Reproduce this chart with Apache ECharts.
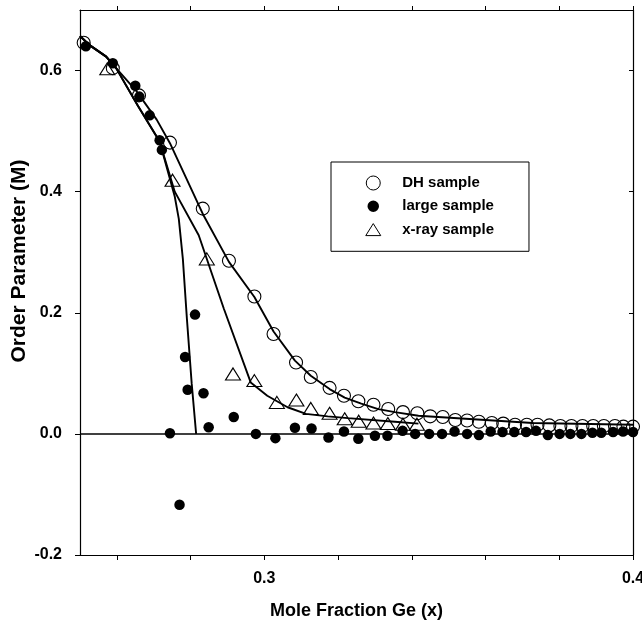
<!DOCTYPE html>
<html>
<head>
<meta charset="utf-8">
<script src="https://cdn.jsdelivr.net/npm/echarts@6/dist/echarts.min.js"></script>
<style>
html,body{margin:0;padding:0;background:#fff;}
#chart{width:642px;height:624px;}
</style>
</head>
<body>
<div id="chart"></div>
<script>
// ---- data ----
const dhX = [0.2510,0.2589,0.2660,0.2744,0.2833,0.2904,0.2973,0.3025,0.3086,0.3126,0.3177,0.3216,0.3255,0.3296,0.3336,0.3376,0.3415,0.3450,0.3484,0.3518,0.3550,0.3582,0.3617,0.3648,0.3680,0.3712,0.3741,0.3773,0.3803,0.3833,0.3863,0.3892,0.3921,0.3951,0.3974,0.4000];
const dhY = [0.646,0.604,0.559,0.481,0.372,0.286,0.227,0.165,0.118,0.094,0.076,0.063,0.054,0.048,0.041,0.036,0.034,0.029,0.028,0.023,0.022,0.020,0.018,0.017,0.015,0.015,0.015,0.014,0.013,0.013,0.013,0.013,0.013,0.013,0.012,0.012];

const largeX = [0.2516,0.2589,0.2650,0.2661,0.2689,0.2716,0.2722,0.2744,0.2770,0.2785,0.2792,0.2812,0.2835,0.2849,0.2917,0.2977,0.3030,0.3083,0.3128,0.3174,0.3216,0.3255,0.3300,0.3334,0.3375,0.3409,0.3447,0.3482,0.3516,0.3550,0.3582,0.3614,0.3646,0.3678,0.3710,0.3737,0.3769,0.3801,0.3830,0.3860,0.3890,0.3914,0.3946,0.3973,0.4000];
const largeY = [0.640,0.612,0.575,0.557,0.526,0.485,0.469,0.001,-0.117,0.127,0.073,0.197,0.067,0.011,0.028,0.000,-0.007,0.010,0.009,-0.006,0.004,-0.008,-0.003,-0.003,0.005,0.000,0.000,0.000,0.004,0.000,-0.002,0.004,0.003,0.003,0.003,0.005,-0.002,0.000,0.000,0.000,0.002,0.002,0.003,0.004,0.003];

const xrayX = [0.2574,0.2751,0.2844,0.2915,0.2973,0.3034,0.3087,0.3126,0.3177,0.3218,0.3256,0.3296,0.3335,0.3376,0.3414];
const xrayY = [0.603,0.419,0.289,0.099,0.088,0.052,0.056,0.042,0.034,0.025,0.021,0.018,0.017,0.016,0.016];

// fitted curves
const dhFitX = [0.2500,0.2526,0.2571,0.2598,0.2653,0.2708,0.2744,0.2835,0.2904,0.2973,0.3025,0.3083,0.3126,0.3177,0.3218,0.3263,0.3309,0.3354,0.3418,0.3546,0.3728,0.4000];
const dhFitY = [0.657,0.642,0.623,0.604,0.566,0.519,0.480,0.361,0.284,0.226,0.169,0.121,0.096,0.074,0.060,0.050,0.041,0.036,0.030,0.025,0.018,0.015];

const largeFitX = [0.2500,0.2526,0.2571,0.2598,0.2657,0.2716,0.2757,0.2768,0.2779,0.2790,0.2803,0.2815];
const largeFitY = [0.657,0.642,0.623,0.604,0.542,0.483,0.392,0.355,0.289,0.190,0.083,0.000];

const xrayFitX = [0.2500,0.2526,0.2571,0.2598,0.2657,0.2716,0.2757,0.2822,0.2890,0.2963,0.3008,0.3063,0.3113,0.3172,0.3227,0.3354,0.3418];
const xrayFitY = [0.657,0.642,0.623,0.604,0.542,0.483,0.400,0.328,0.207,0.085,0.063,0.044,0.033,0.029,0.026,0.020,0.017];

// axis ticks / labels
const xTicks = [0.26,0.28,0.30,0.32,0.34,0.36,0.38,0.40];
const xLabels = [0.3,0.4];
const yTicks = [-0.2,0.0,0.2,0.4,0.6];
const yLabels = [-0.2,0.0,0.2,0.4,0.6];
const seriesNames = ['DH sample','large sample','x-ray sample'];
const yTitle = 'Order Parameter (M)';
const xTitle = 'Mole Fraction Ge (x)';

const zip = (a,b) => a.map((v,i)=>[v,b[i]]);
const FONT = "'Liberation Sans', Arial, sans-serif";
const black = '#000';
// triangle icon with a bounding box slightly larger than the triangle (keeps its aspect in the legend)
const TRI_ICON = 'path://M-8.75,-7M8.75,7M0,-6L7.5,6L-7.5,6Z';

const chart = echarts.init(document.getElementById('chart'), null, {renderer:'canvas'});
const fitLine = (name, xs, ys) => ({
  name, type:'line', data: zip(xs,ys), showSymbol:false, symbol:'none',
  lineStyle:{color:black, width:1.9}, silent:true, z:2, clip:true
});

chart.setOption({
  animation:false,
  backgroundColor:'#fff',
  grid:{left:80, right:9, top:10, bottom:69, containLabel:false, outerBoundsMode:'none'},
  graphic:[{
    type:'text', x:19, y:261, rotation:Math.PI/2, silent:true,
    style:{text:yTitle, fill:black, font:"bold 21px 'Liberation Sans', Arial, sans-serif",
           align:'center', verticalAlign:'middle'}
  }],
  legend:{
    orient:'vertical', left:331, top:162,
    itemWidth:48, itemHeight:14, itemGap:5.3,
    padding:[12,35,12.7,33],
    borderColor:black, borderWidth:1, backgroundColor:'#fff',
    selectedMode:false,
    textStyle:{fontSize:15, fontWeight:'bold', fontFamily:FONT, color:black, lineHeight:18},
    data:[
      {name:seriesNames[0], icon:'circle', itemStyle:{color:'#fff', borderColor:black, borderWidth:1, opacity:1}},
      {name:seriesNames[1], icon:'circle', itemStyle:{color:black, borderColor:'#fff', borderWidth:2.5, opacity:1}},
      {name:seriesNames[2], icon:TRI_ICON, itemStyle:{color:'#fff', borderColor:black, borderWidth:1, opacity:1}}
    ]
  },
  xAxis:[
    {type:'value', position:'bottom', min:0.25, max:0.4,
     name:xTitle, nameLocation:'middle', nameGap:47,
     nameTextStyle:{fontSize:18, fontWeight:'bold', fontFamily:FONT, color:black},
     splitLine:{show:false},
     axisLine:{show:true, onZero:false, lineStyle:{color:black, width:1.2}},
     axisTick:{show:true, customValues:xTicks, length:5, lineStyle:{color:black}},
     axisLabel:{customValues:xLabels, margin:16, fontSize:16, fontWeight:'bold', fontFamily:FONT, color:black,
                formatter:v=>v.toFixed(1)}
    },
    {type:'value', position:'top', min:0.25, max:0.4,
     splitLine:{show:false},
     axisLine:{show:true, onZero:false, lineStyle:{color:black, width:1.2}},
     axisTick:{show:true, customValues:xTicks, length:4, inside:false, lineStyle:{color:black}},
     axisLabel:{show:false}
    }
  ],
  yAxis:[
    {type:'value', position:'left', min:-0.2, max:0.7,
     splitLine:{show:false},
     axisLine:{show:true, onZero:false, lineStyle:{color:black, width:1.2}},
     axisTick:{show:true, customValues:yTicks, length:5, lineStyle:{color:black}},
     axisLabel:{customValues:yLabels, margin:18, fontSize:16, fontWeight:'bold', fontFamily:FONT, color:black,
                formatter:v=>v.toFixed(1)}
    },
    {type:'value', position:'right', min:-0.2, max:0.7,
     splitLine:{show:false},
     axisLine:{show:true, onZero:false, lineStyle:{color:black, width:1.2}},
     axisTick:{show:true, customValues:yTicks, length:4, inside:true, lineStyle:{color:black}},
     axisLabel:{show:false}
    }
  ],
  series:[
    Object.assign(fitLine('DH fit', dhFitX, dhFitY), {
      markLine:{silent:true, symbol:['none','none'], label:{show:false},
        lineStyle:{color:black, width:1.6, type:'solid'}, data:[{yAxis:0}]}
    }),
    fitLine('large fit', largeFitX, largeFitY),
    fitLine('x-ray fit', xrayFitX, xrayFitY),
    {name:seriesNames[0], type:'scatter', data:zip(dhX,dhY), symbol:'circle', symbolSize:13,
     itemStyle:{color:'rgba(255,255,255,0)', borderColor:black, borderWidth:1.1, opacity:1}, z:4},
    {name:seriesNames[1], type:'scatter', data:zip(largeX,largeY), symbol:'circle', symbolSize:10.5,
     itemStyle:{color:black, opacity:1}, z:5},
    {name:seriesNames[2], type:'scatter', data:zip(xrayX,xrayY), symbol:'triangle', symbolSize:[15,12],
     itemStyle:{color:'rgba(255,255,255,0)', borderColor:black, borderWidth:1.1, opacity:1}, z:4}
  ]
});
</script>
</body>
</html>
